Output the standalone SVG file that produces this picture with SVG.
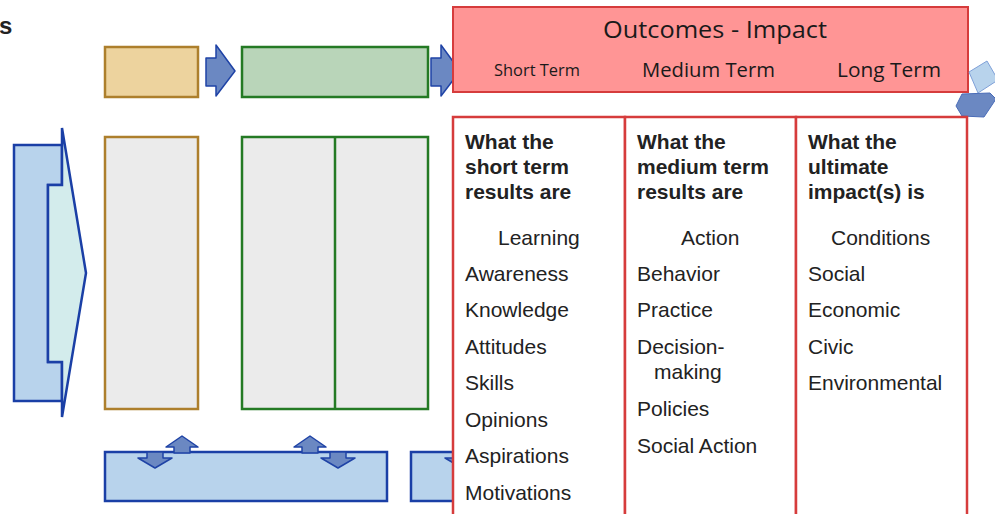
<svg xmlns="http://www.w3.org/2000/svg" width="995" height="514" viewBox="0 0 995 514">
<style>
.bg{fill:#ffffff}
.gray{fill:#ebebeb}
.tan{stroke:#ad7f2c;stroke-width:2.5}
.grn{stroke:#247a24;stroke-width:2.5}
.blu{fill:#b8d3ec;stroke:#1a3fa6;stroke-width:2.5}
.cyan{fill:#d3ecec;stroke:#1a3fa6;stroke-width:2.5;stroke-linejoin:miter}
.arr{fill:#6b88c2;stroke:#1f43a6;stroke-width:1.5;stroke-linejoin:round}
.red{stroke:#d63c3c;stroke-width:2.5}
.t{font-family:"Liberation Sans",Arial,sans-serif;font-size:21px;fill:#222}
.b{font-weight:bold}
.m{font-family:"Open Sans","Noto Sans",sans-serif;fill:#1a1a1a}
</style>
<rect class="bg" x="0" y="0" width="995" height="514"/>
<text class="t b" x="-1" y="34" style="font-size:24px">s</text>

<g id="left-arrow">
<polygon class="blu" points="14,145 62,145 62,185 48,185 48,362 62,362 62,401 14,401"/>
<polygon class="cyan" points="62,128 86,273 62,417 62,362 48,362 48,185 62,185"/>
</g>

<g id="tan-header"><rect x="105" y="47" width="93" height="50" fill="#edd39e" class="tan"/></g>
<g id="green-header"><rect x="242" y="47" width="186" height="50" fill="#b9d5b9" class="grn"/></g>
<g id="tan-column"><rect class="gray tan" x="105" y="137" width="93" height="272"/></g>
<g id="green-columns">
<rect class="gray grn" x="242" y="137" width="186" height="272"/>
<line class="grn" x1="335" y1="137" x2="335" y2="409"/>
</g>

<g id="bottom-bar-1"><rect class="blu" x="105" y="452" width="282" height="49"/></g>
<g id="bottom-bar-2"><rect class="blu" x="411" y="452" width="60" height="49"/></g>

<g id="connectors">
<polygon class="arr" points="206,58 216,58 216,45 235,71 216,96 216,86 206,86"/>
<polygon class="arr" points="431,58 441,58 441,45 460,71 441,96 441,86 431,86"/>
<polygon class="arr" points="174,453 174,447 166,447 182,436 198,447 190,447 190,453"/>
<polygon class="arr" points="147,452 163,452 163,458 172,458 155,468 138,458 147,458"/>
<polygon class="arr" points="302,453 302,447 294,447 310,436 326,447 318,447 318,453"/>
<polygon class="arr" points="330,452 346,452 346,458 355,458 338,468 321,458 330,458"/>
<polygon class="arr" points="454,452 470,452 470,458 479,458 462,468 445,458 454,458"/>
</g>

<g id="outcomes-header">
<rect x="453" y="7" width="515" height="85" fill="#ff9595" class="red" style="stroke-width:2"/>
<text class="m" x="715" y="38" text-anchor="middle" font-size="24" textLength="224" lengthAdjust="spacingAndGlyphs">Outcomes - Impact</text>
<text class="m" x="494" y="76" font-size="17" textLength="86" lengthAdjust="spacingAndGlyphs">Short Term</text>
<text class="m" x="642" y="77" font-size="20" textLength="133" lengthAdjust="spacingAndGlyphs">Medium Term</text>
<text class="m" x="837" y="77" font-size="20" textLength="104" lengthAdjust="spacingAndGlyphs">Long Term</text>
</g>

<g id="corner-decoration">
<polygon points="969,72 987,61 998,80 978,93" fill="#b8d3ec" stroke="#7fa0d8" stroke-width="1"/>
<polygon points="956,106 962,94 990,93 996,99 984,117 962,116" fill="#6b88c2" stroke="#4a6cb8" stroke-width="1"/>
</g>

<g id="short-term">
<rect class="red" x="453" y="117" width="172" height="410" fill="#fff"/>
<text class="t b" x="465" y="149">What the</text>
<text class="t b" x="465" y="174">short term</text>
<text class="t b" x="465" y="199">results are</text>
<text class="t" x="498" y="245">Learning</text>
<text class="t" x="465" y="281">Awareness</text>
<text class="t" x="465" y="317">Knowledge</text>
<text class="t" x="465" y="354">Attitudes</text>
<text class="t" x="465" y="390">Skills</text>
<text class="t" x="465" y="427">Opinions</text>
<text class="t" x="465" y="463">Aspirations</text>
<text class="t" x="465" y="500">Motivations</text>
</g>

<g id="medium-term">
<rect class="red" x="625" y="117" width="171" height="410" fill="#fff"/>
<text class="t b" x="637" y="149">What the</text>
<text class="t b" x="637" y="174">medium term</text>
<text class="t b" x="637" y="199">results are</text>
<text class="t" x="681" y="245">Action</text>
<text class="t" x="637" y="281">Behavior</text>
<text class="t" x="637" y="317">Practice</text>
<text class="t" x="637" y="354">Decision-</text>
<text class="t" x="654" y="379">making</text>
<text class="t" x="637" y="416">Policies</text>
<text class="t" x="637" y="453">Social Action</text>
</g>

<g id="long-term">
<rect class="red" x="796" y="117" width="171" height="410" fill="#fff"/>
<text class="t b" x="808" y="149">What the</text>
<text class="t b" x="808" y="174">ultimate</text>
<text class="t b" x="808" y="199">impact(s) is</text>
<text class="t" x="831" y="245">Conditions</text>
<text class="t" x="808" y="281">Social</text>
<text class="t" x="808" y="317">Economic</text>
<text class="t" x="808" y="354">Civic</text>
<text class="t" x="808" y="390">Environmental</text>
</g>
</svg>
